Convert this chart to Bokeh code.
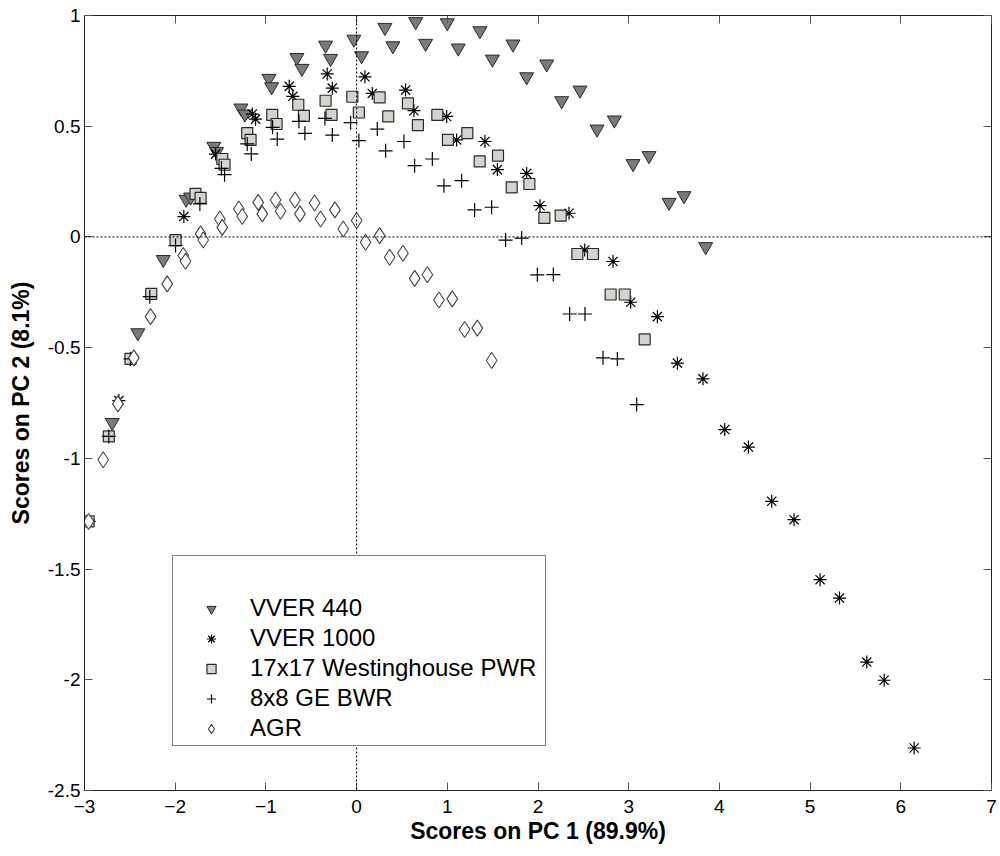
from bokeh.plotting import figure
from bokeh.models import (Range1d, FixedTicker, LinearAxis, Span, Legend, LegendItem)
from bokeh.embed import file_html
from bokeh.resources import INLINE

# ---------------- data ----------------
vver440_x = [-2.694, -2.412, -2.132, -1.88, -1.83, -1.574, -1.544, -1.276, -1.232, -0.967, -0.937,
             -0.658, -0.603, -0.342, -0.287, -0.03, 0.055, 0.312, 0.40, 0.651, 0.761, 1.0, 1.121,
             1.36, 1.497, 1.724, 1.875, 2.096, 2.261, 2.463, 2.651, 2.842, 3.048, 3.224, 3.445,
             3.610, 3.849]
vver440_y = [-0.838, -0.433, -0.102, 0.17, 0.18, 0.409, 0.386, 0.582, 0.555, 0.716, 0.678,
             0.810, 0.761, 0.866, 0.806, 0.893, 0.818, 0.946, 0.863, 0.972, 0.874, 0.967, 0.853,
             0.931, 0.803, 0.871, 0.723, 0.781, 0.615, 0.663, 0.487, 0.528, 0.331, 0.367, 0.156,
             0.186, -0.044]

vver1000_x = [-2.621, -1.905, -1.555, -1.150, -1.114, -0.743, -0.703, -0.324, -0.268, 0.092, 0.173,
              0.540, 0.632, 0.993, 1.103, 1.415, 1.552, 1.875, 2.022, 2.342, 2.515, 2.827, 3.022,
              3.316, 3.537, 3.819, 4.059, 4.320, 4.577, 4.823, 5.110, 5.324, 5.625, 5.816, 6.147]
vver1000_y = [-0.739, 0.092, 0.374, 0.555, 0.532, 0.680, 0.635, 0.736, 0.672, 0.723, 0.648,
              0.663, 0.570, 0.544, 0.438, 0.431, 0.304, 0.287, 0.141, 0.107, -0.059, -0.111, -0.295,
              -0.360, -0.570, -0.641, -0.870, -0.949, -1.194, -1.277, -1.548, -1.631, -1.920,
              -2.002, -2.308]

pwr_x = [-2.955, -2.732, -2.493, -2.264, -1.996, -1.776, -1.720, -1.481, -1.456, -1.206, -1.169,
         -0.930, -0.882, -0.643, -0.581, -0.342, -0.276, -0.047, 0.025, 0.254, 0.349, 0.566, 0.676,
         0.890, 1.007, 1.221, 1.357, 1.559, 1.710, 1.905, 2.070, 2.250, 2.434, 2.606, 2.801, 2.956,
         3.176]
pwr_y = [-1.285, -0.901, -0.551, -0.257, -0.014, 0.194, 0.176, 0.352, 0.326, 0.469, 0.438,
         0.551, 0.510, 0.597, 0.547, 0.615, 0.551, 0.633, 0.562, 0.630, 0.544, 0.603, 0.505,
         0.551, 0.438, 0.469, 0.341, 0.367, 0.224, 0.239, 0.086, 0.096, -0.077, -0.077, -0.260,
         -0.260, -0.463]

bwr_x = [-2.955, -2.732, -2.493, -2.28, -1.996, -1.728, -1.49, -1.456, -1.206, -1.161, -0.926,
         -0.875, -0.636, -0.570, -0.349, -0.268, -0.066, 0.025, 0.228, 0.320, 0.522, 0.640, 0.835,
         0.963, 1.158, 1.301, 1.489, 1.643, 1.820, 1.993, 2.169, 2.349, 2.518, 2.717, 2.875, 3.088]
bwr_y = [-1.285, -0.901, -0.551, -0.27, -0.039, 0.149, 0.31, 0.281, 0.420, 0.375, 0.495,
         0.442, 0.522, 0.468, 0.535, 0.460, 0.516, 0.435, 0.487, 0.389, 0.431, 0.322, 0.352,
         0.231, 0.254, 0.122, 0.134, -0.014, -0.005, -0.171, -0.170, -0.348, -0.348, -0.546,
         -0.551, -0.757]

agr_x = [-2.955, -2.794, -2.632, -2.456, -2.272, -2.088, -1.911, -1.886, -1.72, -1.691, -1.508,
         -1.481, -1.298, -1.261, -1.085, -1.04, -0.893, -0.838, -0.680, -0.625, -0.463, -0.397,
         -0.239, -0.147, 0.0, 0.099, 0.254, 0.364, 0.511, 0.640, 0.780, 0.908, 1.055, 1.191,
         1.331, 1.489]
agr_y = [-1.285, -1.006, -0.754, -0.546, -0.360, -0.212, -0.084, -0.110, 0.014, -0.014, 0.081,
         0.043, 0.126, 0.092, 0.156, 0.104, 0.167, 0.116, 0.167, 0.104, 0.153, 0.081,
         0.122, 0.036, 0.074, -0.024, 0.006, -0.092, -0.074, -0.187, -0.171, -0.285, -0.280,
         -0.418, -0.412, -0.558]

series_names = ["VVER 440", "VVER 1000", "17x17 Westinghouse PWR", "8x8 GE BWR", "AGR"]
x_ticks = [-3, -2, -1, 0, 1, 2, 3, 4, 5, 6, 7]
y_ticks = [-2.5, -2, -1.5, -1, -0.5, 0, 0.5, 1]
y_tick_labels = ["-2.5", "-2", "-1.5", "-1", "-0.5", "0", "0.5", "1"]
x_label = "Scores on PC 1 (89.9%)"
y_label = "Scores on PC 2 (8.1%)"

FONT = "Liberation Sans"

p = figure(width=1000, height=856, output_backend="svg", toolbar_location=None,
           x_range=Range1d(-3, 7), y_range=Range1d(-2.5, 1),
           min_border_left=84, min_border_right=9, min_border_top=15, min_border_bottom=66)
p.grid.visible = False
p.outline_line_color = "#222222"
p.outline_line_width = 1
p.background_fill_color = "white"
p.border_fill_color = "white"

# axes
for ax in p.xaxis:
    ax.ticker = FixedTicker(ticks=x_ticks)
    ax.axis_label = x_label
for ax in p.yaxis:
    ax.ticker = FixedTicker(ticks=y_ticks)
    ax.major_label_overrides = {float(t): s for t, s in zip(y_ticks, y_tick_labels)}
    ax.axis_label = y_label

for ax in list(p.xaxis) + list(p.yaxis):
    ax.major_tick_in = 8
    ax.major_tick_out = 0
    ax.minor_tick_line_color = None
    ax.major_tick_line_color = "#555555"
    ax.axis_line_color = "#222222"
    ax.major_label_text_font = FONT
    ax.major_label_text_font_size = "19px"
    ax.major_label_text_color = "black"
    ax.axis_label_text_font = FONT
    ax.axis_label_text_font_size = "23px"
    ax.axis_label_text_font_style = "bold"
    ax.axis_label_text_color = "black"
p.xaxis.major_label_standoff = 9
p.xaxis.axis_label_standoff = 2
p.yaxis.major_label_standoff = 4
p.yaxis.axis_label_standoff = 11

# box ticks on top and right (no labels)
top = LinearAxis(ticker=FixedTicker(ticks=x_ticks), major_tick_in=8, major_tick_out=0,
                 minor_tick_line_color=None, major_label_text_font_size="1px",
                 major_label_text_color=None,
                 major_label_standoff=0, axis_line_color=None, major_tick_line_color="#555555")
right = LinearAxis(ticker=FixedTicker(ticks=y_ticks), major_tick_in=8, major_tick_out=0,
                   minor_tick_line_color=None, major_label_text_font_size="1px",
                   major_label_text_color=None,
                   major_label_standoff=0, axis_line_color=None, major_tick_line_color="#555555")
p.add_layout(top, "above")
p.add_layout(right, "right")

# zero lines
p.add_layout(Span(location=0, dimension="height", line_color="black", line_width=1, line_dash="2 2"))
p.add_layout(Span(location=0, dimension="width", line_color="black", line_width=1, line_dash="2 2"))

r1 = p.scatter(vver440_x, vver440_y, marker="inverted_triangle", size=14,
               fill_color="#7a7a7a", line_color="#2a2a2a", line_width=1)
r2 = p.scatter(vver1000_x, vver1000_y, marker="asterisk", size=13,
               line_color="black", line_width=1.2)
r3 = p.scatter(pwr_x, pwr_y, marker="square", size=11,
               fill_color="#d4d4ce", line_color="#2a2a2a", line_width=1.2)
r4 = p.scatter(bwr_x, bwr_y, marker="cross", size=14,
               line_color="black", line_width=1.2)
r5 = p.scatter(agr_x, agr_y, marker="diamond", size=16,
               fill_color="white", line_color="#444444", line_width=1.1)

legend = Legend(items=[LegendItem(label=n, renderers=[r]) for n, r in
                       zip(series_names, [r1, r2, r3, r4, r5])],
                location=(88, 44), title=" ", title_text_font_size="18px", title_standoff=14,
                padding=3, spacing=2, glyph_width=70, glyph_height=23, label_height=26,
                label_width=292, label_standoff=4,
                label_text_font=FONT, label_text_font_size="24px", label_text_color="black",
                border_line_color="black", border_line_width=1,
                background_fill_color="white", background_fill_alpha=1)
p.add_layout(legend)

open("out.html", "w").write(file_html(p, INLINE))
